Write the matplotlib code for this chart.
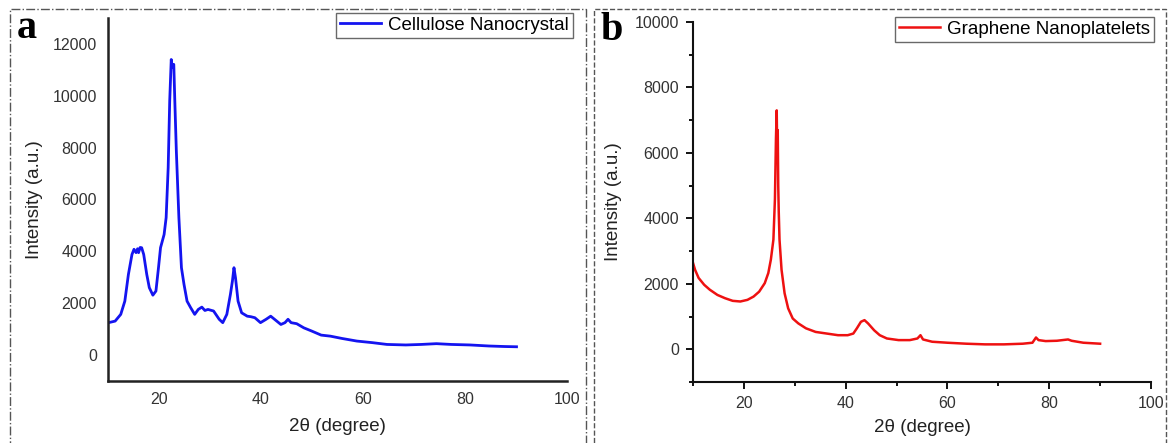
import matplotlib
matplotlib.use('Agg')
import matplotlib.pyplot as plt
from matplotlib.patches import Rectangle
from matplotlib.ticker import MultipleLocator

plt.rcParams['font.family'] = ['Liberation Sans', 'DejaVu Sans']

# Cellulose Nanocrystal (panel a)
cnc_2theta = [10.1, 11.4, 12.5, 13.3, 14.0, 14.7, 15.1, 15.5, 15.8, 16.0, 16.3, 16.6, 17.0,
              17.6, 18.1, 18.8, 19.4, 19.9, 20.3, 21.0, 21.4, 21.8, 22.1, 22.4, 22.6,
              22.9, 23.1, 23.4, 23.9, 24.4, 24.9, 25.5, 26.2, 27.0, 27.7, 28.4, 29.0,
              29.6, 30.7, 31.8, 32.5, 33.3, 34.0, 34.4, 34.7, 35.0, 35.5, 36.2, 37.3,
              38.0, 38.8, 39.9, 41.0, 41.9, 42.9, 43.9, 44.7, 45.3, 45.9, 47.0, 48.4,
              49.9, 51.8, 53.6, 55.9, 58.8, 61.8, 64.7, 68.4, 71.4, 74.4, 77.3, 81.0,
              84.7, 87.7, 90.1]
cnc_int = [1250, 1310, 1570, 2080, 3110, 3880, 4080, 3950, 4100, 3950, 4150, 4140, 3880,
           3110, 2600, 2310, 2470, 3370, 4140, 4650, 5300, 7230, 9800, 11400, 11100,
           11210, 9800, 7870, 5300, 3370, 2730, 2080, 1830, 1570, 1760, 1850, 1720,
           1760, 1700, 1380, 1250, 1570, 2340, 2860, 3370, 2980, 2080, 1630, 1500,
           1480, 1440, 1250, 1380, 1500, 1340, 1180, 1250, 1380, 1250, 1210, 1050,
           930, 770, 730, 640, 540, 480, 410, 390, 410, 440, 410, 390,
           350, 330, 320]

# Graphene Nanoplatelets (panel b)
gnp_2theta = [10.0, 10.4, 11.1, 12.2, 13.3, 14.8, 16.3, 17.8, 19.3, 20.7, 21.9, 23.0,
              24.1, 24.8, 25.3, 25.8, 26.1, 26.3, 26.45, 26.55, 26.65, 26.75, 26.85, 27.0,
              27.4, 28.0, 28.7, 29.6, 30.7, 32.2, 34.1, 36.3, 38.5, 40.4, 41.5, 42.2,
              43.0, 43.7, 44.4, 45.6, 46.7, 48.1, 50.4, 52.6, 54.1, 54.7, 55.2, 57.0,
              60.0, 63.7, 67.4, 71.1, 74.8, 76.7, 77.4, 77.9, 79.3, 81.5, 83.7, 84.4,
              86.7, 90.0]
gnp_int = [2640, 2430, 2180, 1970, 1820, 1660, 1560, 1480, 1460, 1510, 1610, 1760,
           2020, 2330, 2740, 3350, 4590, 6430, 7300, 6000, 6700, 5000, 4200, 3350,
           2430, 1710, 1250, 940, 790, 640, 530, 480, 430, 430, 480, 640,
           840, 890, 790, 580, 430, 330, 280, 280, 330, 430, 300, 230,
           200, 170, 150, 150, 170, 200, 360, 280, 250, 260, 300, 260,
           200, 170]

fig = plt.figure(figsize=(11.69, 4.43), dpi=100)
W, H = 1169.0, 443.0


def fx(px):
    return px / W


def fy(py):
    return 1 - py / H


# panel frames
fig.patches.append(Rectangle((fx(10), fy(470)), fx(586) - fx(10), fy(9) - fy(470),
                             transform=fig.transFigure, fill=False, ec='#555555',
                             lw=1.0, ls='-.', clip_on=False))
fig.patches.append(Rectangle((fx(594), fy(470)), fx(1166) - fx(594), fy(9) - fy(470),
                             transform=fig.transFigure, fill=False, ec='#555555',
                             lw=1.0, ls='--', clip_on=False))

ax1 = fig.add_axes([fx(108), fy(381), fx(567) - fx(108), fy(18) - fy(381)])
ax2 = fig.add_axes([fx(693), fy(382), fx(1151) - fx(693), fy(22) - fy(382)])

# panel a
ax1.plot(cnc_2theta, cnc_int, color='#1414F0', lw=2.0, label='Cellulose Nanocrystal')
ax1.set_xlim(10, 100)
ax1.set_ylim(-1000, 13000)
ax1.set_xticks([20, 40, 60, 80, 100])
ax1.set_yticks(range(0, 12001, 2000))
ax1.tick_params(length=0, labelsize=11.5, labelcolor='#333333', pad=8)
for s in ['top', 'right']:
    ax1.spines[s].set_visible(False)
for s in ['left', 'bottom']:
    ax1.spines[s].set_linewidth(1.8)
    ax1.spines[s].set_color('#222222')
ax1.set_xlabel('2θ (degree)', fontsize=13.5, color='#222222', labelpad=8)
ax1.set_ylabel('Intensity (a.u.)', fontsize=13.5, color='#222222', labelpad=7)
ax1.legend(loc='upper right', bbox_to_anchor=(fx(573), fy(13)), bbox_transform=fig.transFigure,
           fontsize=13.5, frameon=True, fancybox=False, edgecolor='#444444',
           borderpad=0.2, handlelength=2.2, handletextpad=0.4, borderaxespad=0)

# panel b
ax2.plot(gnp_2theta, gnp_int, color='#EE1111', lw=1.8, label='Graphene Nanoplatelets')
ax2.set_xlim(10, 100)
ax2.set_ylim(-1000, 10000)
ax2.set_xticks([20, 40, 60, 80, 100])
ax2.set_yticks(range(0, 10001, 2000))
ax2.xaxis.set_minor_locator(MultipleLocator(10))
ax2.yaxis.set_minor_locator(MultipleLocator(1000))
ax2.tick_params(which='major', length=5, width=1.3, labelsize=11.5, labelcolor='#333333', pad=5)
ax2.tick_params(which='minor', length=3, width=1.3)
for s in ['top', 'right']:
    ax2.spines[s].set_visible(False)
for s in ['left', 'bottom']:
    ax2.spines[s].set_linewidth(1.5)
    ax2.spines[s].set_color('#111111')
ax2.set_xlabel('2θ (degree)', fontsize=13.5, color='#222222', labelpad=6)
ax2.set_ylabel('Intensity (a.u.)', fontsize=13.5, color='#222222', labelpad=9)
ax2.legend(loc='upper right', bbox_to_anchor=(fx(1154), fy(17)), bbox_transform=fig.transFigure,
           fontsize=13.5, frameon=True, fancybox=False, edgecolor='#444444',
           borderpad=0.2, handlelength=2.2, handletextpad=0.4, borderaxespad=0)

# panel letters
fig.text(fx(17), fy(38), 'a', fontsize=29, fontweight='bold', family='Liberation Serif')
fig.text(fx(601), fy(40), 'b', fontsize=29, fontweight='bold', family='Liberation Serif')

fig.savefig('out.png', dpi=100)
